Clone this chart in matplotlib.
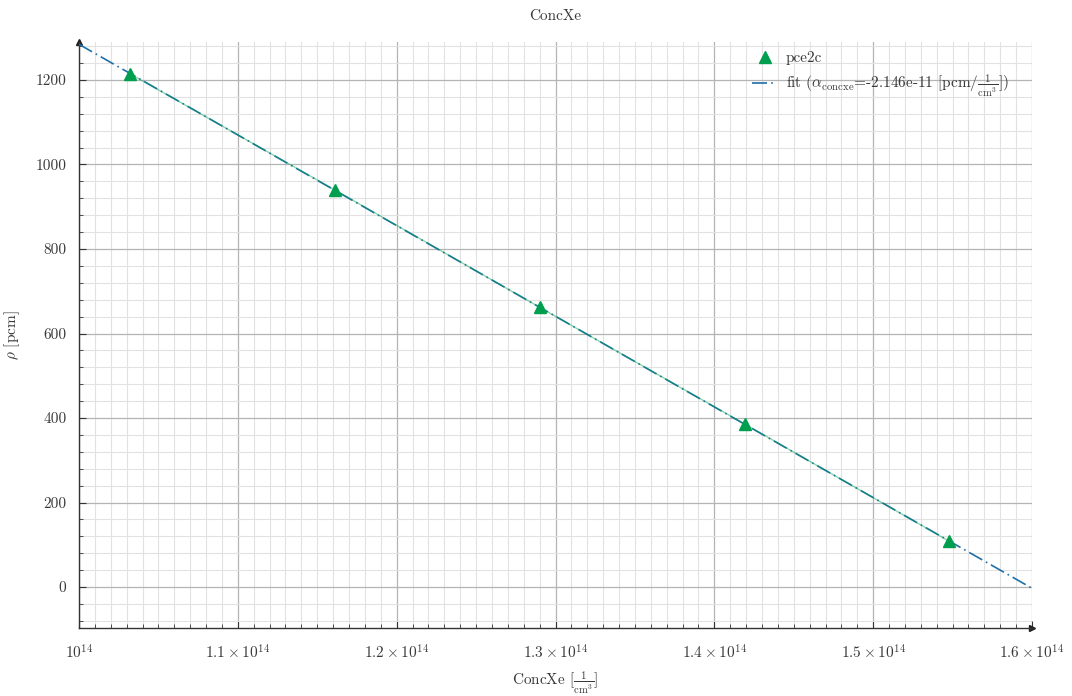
import numpy as np
import matplotlib.pyplot as plt
from matplotlib.ticker import MultipleLocator, FuncFormatter

plt.rcParams['font.family'] = 'serif'
plt.rcParams['font.serif'] = ['cmr10', 'DejaVu Serif']
plt.rcParams['mathtext.fontset'] = 'cm'
plt.rcParams['axes.formatter.use_mathtext'] = True
plt.rcParams['axes.unicode_minus'] = False

# Xenon-Konzentration [1/cm^3] und Reaktivität [pcm]
conc_xe = [1.032e14, 1.161e14, 1.290e14, 1.419e14, 1.548e14]
rho_pce2c = [1215, 940, 662, 386, 108]

# lineare Regression
alpha, b = np.polyfit(conc_xe, rho_pce2c, 1)
x_fit = np.linspace(1e14, 1.6e14, 200)
y_fit = alpha * x_fit + b

txt = '#3a3a3a'
fs = 11
fig, ax = plt.subplots(figsize=(10.72, 6.96), dpi=100)
fig.subplots_adjust(left=0.0737, right=0.9627, bottom=0.0977, top=0.9397)

ax.plot(x_fit, y_fit, linestyle=(0, (9, 2.5, 1, 2.5)), color='#1f6fa8', lw=1.2,
        label=r'fit ($\alpha_{\mathrm{concxe}}$=%.3e [pcm/$\frac{1}{\mathrm{cm}^3}$])' % alpha,
        zorder=3)
ax.plot(conc_xe, rho_pce2c, '-', color='#009e4f', lw=1.0, alpha=0.45, zorder=3)
ax.plot(conc_xe, rho_pce2c, '^', color='#009e4f', ms=9, linestyle='none',
        label='pce2c', zorder=4)

ax.set_xlim(1e14, 1.6e14)
ax.set_ylim(-97, 1290)

ax.xaxis.set_major_locator(MultipleLocator(0.1e14))
ax.xaxis.set_minor_locator(MultipleLocator(0.01e14))
ax.yaxis.set_major_locator(MultipleLocator(200))
ax.yaxis.set_minor_locator(MultipleLocator(40))

def xfmt(v, pos):
    m = v / 1e14
    if abs(m - 1) < 1e-6:
        return r'$10^{14}$'
    return r'$%.1f\times10^{14}$' % m

ax.xaxis.set_major_formatter(FuncFormatter(xfmt))
ax.yaxis.set_major_formatter(FuncFormatter(lambda v, p: '%d' % v))

ax.grid(which='major', color='#b4b4b4', lw=0.9)
ax.grid(which='minor', color='#e2e2e2', lw=0.8)
ax.set_axisbelow(True)

for s in ['top', 'right']:
    ax.spines[s].set_visible(False)
for s in ['left', 'bottom']:
    ax.spines[s].set_color('#333333')
    ax.spines[s].set_linewidth(1.0)

ax.tick_params(which='both', direction='in', colors='#333333', labelcolor=txt, labelsize=fs)
ax.tick_params(which='major', length=5, pad=11)
ax.tick_params(which='minor', length=3)
ax.tick_params(axis='y', pad=9)

# Pfeile an den Achsen
ax.plot(1, 0, '>', color='#222222', ms=5, transform=ax.transAxes, clip_on=False)
ax.plot(0, 1, '^', color='#222222', ms=5, transform=ax.transAxes, clip_on=False)

ax.set_title('ConcXe', fontsize=fs, color=txt, pad=16)
ax.set_xlabel(r'ConcXe [$\frac{1}{\mathrm{cm}^3}$]', fontsize=fs, color=txt, labelpad=6)
ax.set_ylabel(r'$\rho$ [pcm]', fontsize=fs, color=txt, labelpad=10)

h, l = ax.get_legend_handles_labels()
leg = ax.legend(h[::-1], l[::-1], loc='upper right', frameon=False, fontsize=fs,
                bbox_to_anchor=(0.99, 1.008), handlelength=1.6, handletextpad=0.6,
                labelspacing=0.5)
for t in leg.get_texts():
    t.set_color(txt)

fig.savefig('out.png', dpi=100)
